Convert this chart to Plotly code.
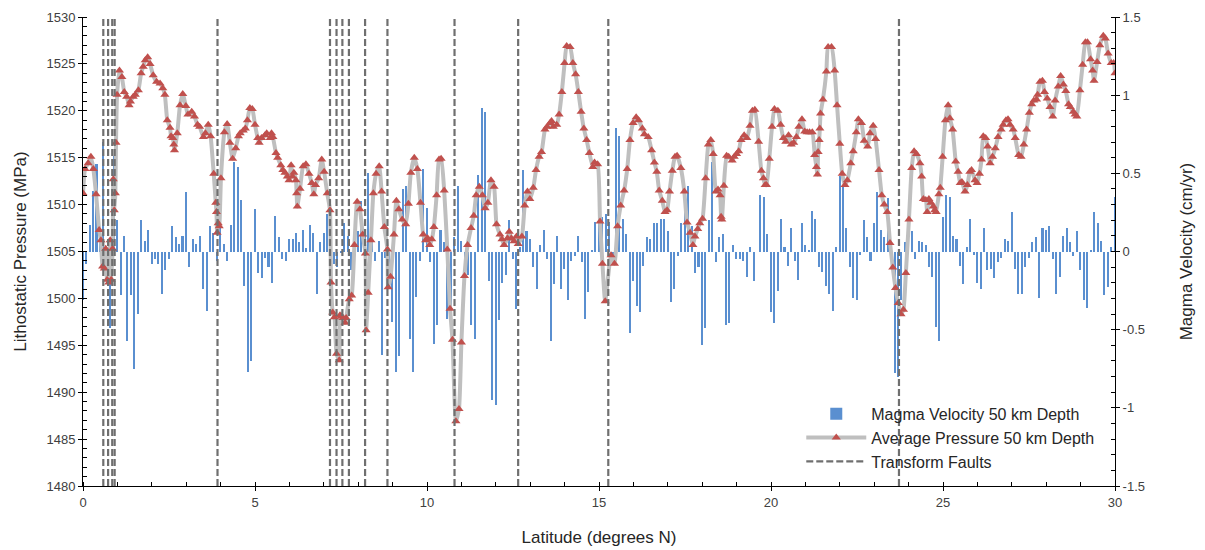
import plotly.graph_objects as go

# Average lithostatic pressure at 50 km depth (MPa) along the ridge axis
pressure_lat = [
    0.00, 0.06, 0.15, 0.23, 0.30, 0.38, 0.47, 0.52, 0.57, 0.62, 0.66, 0.70, 0.75, 0.79, 0.82, 0.86,
    0.88, 0.91, 0.94, 0.96, 0.99, 1.06, 1.13, 1.20, 1.27, 1.34, 1.38, 1.46, 1.52, 1.61, 1.69, 1.75,
    1.81, 1.88, 1.95, 2.04, 2.14, 2.24, 2.32, 2.38, 2.45, 2.53, 2.56, 2.61, 2.64, 2.66, 2.74, 2.82,
    2.90, 2.99, 3.05, 3.16, 3.24, 3.33, 3.39, 3.50, 3.56, 3.64, 3.71, 3.80, 3.86, 3.88, 3.90, 3.93,
    3.96, 4.01, 4.11, 4.19, 4.27, 4.35, 4.44, 4.52, 4.57, 4.66, 4.72, 4.78, 4.85, 4.92, 5.00, 5.08,
    5.12, 5.19, 5.29, 5.34, 5.44, 5.48, 5.52, 5.61, 5.66, 5.75, 5.81, 5.87, 5.94, 5.99, 6.05, 6.09,
    6.13, 6.19, 6.21, 6.23, 6.31, 6.40, 6.48, 6.57, 6.65, 6.71, 6.76, 6.85, 6.94, 7.01, 7.10, 7.18,
    7.21, 7.26, 7.31, 7.37, 7.45, 7.47, 7.52, 7.56, 7.62, 7.65, 7.74, 7.81, 7.89, 7.97, 8.05, 8.13,
    8.21, 8.23, 8.29, 8.37, 8.44, 8.52, 8.61, 8.68, 8.76, 8.85, 8.87, 8.94, 9.04, 9.11, 9.18, 9.28,
    9.38, 9.46, 9.53, 9.63, 9.72, 9.81, 9.89, 9.96, 10.02, 10.08, 10.14, 10.20, 10.28, 10.35, 10.41, 10.50,
    10.59, 10.67, 10.74, 10.84, 10.93, 11.00, 11.09, 11.18, 11.28, 11.36, 11.43, 11.52, 11.61, 11.69, 11.77, 11.86,
    11.95, 12.02, 12.12, 12.18, 12.24, 12.34, 12.39, 12.45, 12.53, 12.60, 12.65, 12.76, 12.84, 12.92, 12.99, 13.09,
    13.17, 13.26, 13.33, 13.43, 13.49, 13.58, 13.62, 13.67, 13.77, 13.84, 13.92, 14.00, 14.06, 14.16, 14.24, 14.32,
    14.40, 14.48, 14.56, 14.64, 14.72, 14.82, 14.87, 14.96, 15.03, 15.10, 15.18, 15.35, 15.45, 15.54, 15.63, 15.73,
    15.82, 15.90, 15.99, 16.08, 16.15, 16.26, 16.32, 16.43, 16.53, 16.61, 16.68, 16.75, 16.84, 16.92, 16.98, 17.05,
    17.13, 17.21, 17.27, 17.38, 17.48, 17.56, 17.65, 17.73, 17.79, 17.87, 17.93, 18.01, 18.10, 18.18, 18.25, 18.32,
    18.40, 18.46, 18.52, 18.55, 18.57, 18.63, 18.71, 18.77, 18.87, 18.93, 19.00, 19.06, 19.13, 19.22, 19.30, 19.39,
    19.46, 19.53, 19.64, 19.72, 19.78, 19.83, 19.87, 19.95, 20.03, 20.10, 20.20, 20.28, 20.36, 20.43, 20.51, 20.59,
    20.66, 20.74, 20.81, 20.90, 20.98, 21.05, 21.12, 21.20, 21.27, 21.32, 21.35, 21.37, 21.40, 21.42, 21.44, 21.51,
    21.61, 21.66, 21.76, 21.85, 21.92, 22.00, 22.07, 22.15, 22.22, 22.32, 22.39, 22.48, 22.54, 22.63, 22.71, 22.81,
    22.88, 22.97, 23.04, 23.14, 23.22, 23.29, 23.38, 23.46, 23.54, 23.62, 23.70, 23.78, 23.85, 23.92, 24.01, 24.09,
    24.16, 24.23, 24.33, 24.38, 24.43, 24.50, 24.54, 24.59, 24.65, 24.72, 24.76, 24.80, 24.88, 24.92, 24.99, 25.07,
    25.15, 25.20, 25.28, 25.37, 25.44, 25.50, 25.55, 25.64, 25.71, 25.78, 25.83, 25.93, 25.99, 26.06, 26.12, 26.17,
    26.24, 26.30, 26.37, 26.44, 26.52, 26.60, 26.69, 26.75, 26.83, 26.89, 26.95, 27.04, 27.10, 27.20, 27.27, 27.35,
    27.43, 27.51, 27.58, 27.64, 27.72, 27.75, 27.82, 27.89, 27.95, 28.03, 28.11, 28.19, 28.26, 28.35, 28.42, 28.50,
    28.57, 28.65, 28.70, 28.79, 28.84, 28.89, 28.98, 29.06, 29.14, 29.20, 29.29, 29.35, 29.39, 29.48, 29.56, 29.66,
    29.72, 29.80, 29.89, 29.96, 30.00,
]
pressure_mpa = [
    1511.2, 1513.8, 1514.4, 1515.1, 1513.8, 1511.1, 1507.3, 1506.2, 1503.4, 1503.2, 1505.3, 1502.0, 1501.7, 1506.2, 1502.0, 1505.3,
    1512.7, 1509.4, 1511.2, 1516.6, 1521.7, 1524.3, 1523.6, 1522.0, 1521.5, 1520.6, 1521.0, 1521.5, 1521.7, 1522.2, 1524.0, 1524.7,
    1525.4, 1525.7, 1525.0, 1523.8, 1523.1, 1522.9, 1522.4, 1521.7, 1519.0, 1518.2, 1517.3, 1517.1, 1516.4, 1515.8, 1517.6, 1520.6,
    1521.8, 1520.5, 1519.6, 1519.9, 1519.4, 1518.5, 1518.3, 1517.2, 1517.6, 1518.5, 1517.3, 1513.3, 1510.2, 1509.2, 1507.0, 1508.0,
    1507.7, 1512.8, 1517.7, 1518.6, 1516.6, 1514.9, 1516.0, 1517.3, 1517.6, 1517.9, 1518.1, 1519.0, 1520.3, 1520.2, 1518.5, 1517.1,
    1516.6, 1517.1, 1517.4, 1517.6, 1517.1, 1517.6, 1517.2, 1515.5, 1515.0, 1514.2, 1513.7, 1513.4, 1513.0, 1512.6, 1514.2, 1513.0,
    1513.4, 1512.6, 1511.2, 1509.8, 1511.7, 1514.1, 1514.3, 1513.3, 1512.3, 1511.1, 1512.1, 1512.8, 1514.8, 1513.5, 1511.2, 1509.4,
    1501.7, 1498.5, 1498.0, 1494.1, 1493.4, 1498.2, 1498.1, 1497.9, 1497.4, 1497.9, 1499.9, 1500.3, 1505.7, 1510.3, 1509.5, 1506.8,
    1504.8, 1496.6, 1500.6, 1506.2, 1511.2, 1513.3, 1514.1, 1511.4, 1507.6, 1505.2, 1501.2, 1502.3, 1506.8, 1510.4, 1509.5, 1508.4,
    1507.9, 1510.1, 1513.4, 1515.0, 1513.8, 1510.2, 1506.8, 1506.2, 1506.4, 1505.7, 1506.3, 1507.6, 1511.0, 1514.8, 1514.9, 1511.5,
    1505.2, 1498.9, 1495.6, 1486.9, 1488.2, 1495.3, 1502.4, 1505.7, 1507.5, 1508.8, 1511.0, 1511.9, 1511.0, 1509.6, 1510.2, 1512.6,
    1511.9, 1507.9, 1506.8, 1506.3, 1505.7, 1506.4, 1507.1, 1506.4, 1506.1, 1506.6, 1505.8, 1506.6, 1509.9, 1511.4, 1510.6, 1511.8,
    1513.7, 1515.1, 1515.6, 1518.0, 1518.3, 1518.7, 1518.9, 1518.3, 1518.5, 1519.6, 1522.0, 1525.1, 1526.9, 1526.8, 1525.1, 1523.9,
    1522.0, 1519.9, 1518.1, 1516.9, 1515.5, 1514.0, 1514.5, 1514.3, 1508.2, 1503.7, 1499.7, 1504.6, 1503.7, 1507.7, 1509.9, 1511.5,
    1513.8, 1516.9, 1518.7, 1519.3, 1519.0, 1518.1, 1517.5, 1517.2, 1515.8, 1514.5, 1513.5, 1511.5, 1510.4, 1509.2, 1509.4, 1511.4,
    1513.6, 1515.1, 1515.2, 1513.9, 1511.4, 1508.1, 1507.0, 1505.7, 1506.6, 1507.4, 1508.0, 1508.5, 1512.8, 1516.4, 1516.9, 1515.4,
    1511.4, 1511.6, 1511.0, 1508.7, 1508.4, 1512.0, 1515.2, 1515.1, 1514.7, 1515.1, 1515.4, 1515.7, 1516.9, 1517.4, 1517.1, 1518.4,
    1520.0, 1520.1, 1516.7, 1513.6, 1512.8, 1512.1, 1512.1, 1514.9, 1518.3, 1520.2, 1520.0, 1518.5, 1517.1, 1516.7, 1517.4, 1516.4,
    1516.6, 1517.2, 1518.3, 1519.1, 1517.8, 1517.7, 1517.7, 1517.7, 1515.3, 1514.0, 1513.2, 1515.6, 1516.9, 1518.1, 1519.7, 1521.2,
    1524.2, 1526.8, 1526.8, 1524.3, 1520.6, 1516.5, 1513.3, 1512.1, 1512.6, 1514.4, 1515.7, 1517.7, 1519.1, 1518.7, 1516.8, 1516.2,
    1517.6, 1518.4, 1517.0, 1513.7, 1511.0, 1510.0, 1509.2, 1505.9, 1503.3, 1501.1, 1499.5, 1498.3, 1498.8, 1502.7, 1508.4, 1513.9,
    1515.7, 1515.4, 1514.4, 1513.0, 1510.6, 1510.5, 1509.2, 1510.6, 1510.2, 1509.8, 1509.4, 1509.2, 1511.1, 1511.8, 1515.1, 1519.0,
    1520.6, 1519.2, 1518.0, 1514.6, 1513.5, 1512.3, 1512.4, 1511.4, 1512.1, 1513.5, 1513.7, 1512.6, 1512.3, 1513.3, 1514.8, 1517.3,
    1517.1, 1516.2, 1514.4, 1515.1, 1516.0, 1517.2, 1518.0, 1518.5, 1519.0, 1519.1, 1518.5, 1518.0, 1517.1, 1515.3, 1515.1, 1516.4,
    1518.0, 1519.8, 1520.7, 1521.1, 1521.2, 1521.7, 1523.1, 1523.2, 1522.0, 1521.3, 1520.4, 1519.4, 1521.1, 1522.6, 1523.7, 1522.8,
    1522.1, 1520.7, 1520.4, 1519.9, 1519.6, 1519.4, 1522.2, 1524.9, 1527.3, 1527.3, 1525.5, 1524.3, 1523.2, 1525.2, 1527.0, 1528.0,
    1527.7, 1526.1, 1525.1, 1525.1, 1524.0,
]

# Magma velocity at 50 km depth (cm/yr), sampled every 0.1 degree from 0 to 30 N
velocity_lat = [round(i * 0.1, 1) for i in range(301)]
velocity_cm_yr = [
    -0.31, -0.08, 0.17, 0.39, 0.56, 0.15, 0.70, -0.20, -0.49, 0.61,
    0.20, -0.28, 0.10, -0.57, -0.28, -0.75, -0.40, 0.20, 0.07, 0.14,
    -0.08, -0.05, -0.08, -0.27, -0.12, -0.05, 0.16, 0.09, 0.05, 0.10,
    0.38, -0.10, 0.08, 0.05, 0.10, -0.24, -0.38, 0.16, 0.12, -0.06,
    0.20, 0.05, -0.06, 0.17, 0.57, 0.54, 0.33, -0.22, -0.77, -0.70,
    0.27, -0.14, -0.17, -0.04, -0.10, -0.20, 0.23, 0.09, -0.05, -0.06,
    0.08, 0.08, 0.12, 0.06, 0.14, 0.02, 0.17, 0.12, -0.27, 0.06,
    0.12, 0.24, 0.19, -0.08, -0.10, -0.01, 0.18, 0.10, -0.12, 0.05,
    0.13, 0.32, 0.12, 0.50, 0.07, -0.06, 0.07, -0.66, -0.04, -0.10,
    -0.45, -0.77, -0.67, 0.40, 0.42, -0.56, -0.77, -0.29, -0.06, 0.53,
    0.28, -0.07, -0.59, -0.47, 0.14, 0.06, -0.43, -0.36, 0.09, 0.42,
    0.07, -0.10, -0.15, -0.47, -0.56, 0.49, 0.92, 0.89, -0.19, -0.95,
    -0.98, -0.44, -0.20, -0.15, 0.20, -0.05, -0.37, 0.03, 0.52, 0.13,
    0.08, -0.10, -0.24, 0.04, 0.14, -0.05, -0.57, -0.21, 0.10, -0.24,
    -0.11, -0.31, -0.06, -0.03, 0.10, -0.07, -0.43, -0.26, 0.01, 0.19,
    0.30, 0.22, 0.24, 0.19, -0.05, 0.79, 0.74, 0.21, 0.11, -0.52,
    -0.19, -0.35, -0.39, -0.09, 0.09, 0.08, 0.18, 0.18, 0.21, 0.21,
    0.13, -0.32, -0.24, -0.03, 0.18, 0.33, 0.42, 0.16, -0.14, -0.10,
    -0.60, -0.49, 0.20, 0.57, -0.07, 0.09, 0.11, -0.47, -0.46, 0.04,
    -0.05, -0.05, -0.06, -0.16, 0.03, -0.19, 0.00, 0.36, 0.35, 0.11,
    -0.39, -0.46, -0.25, 0.21, 0.03, -0.09, 0.15, -0.06, -0.18, 0.18,
    0.04, 0.01, 0.26, 0.21, -0.10, -0.13, -0.22, -0.27, -0.38, 0.03,
    0.48, 0.41, 0.15, -0.10, -0.30, -0.31, -0.02, 0.20, 0.09, -0.06,
    0.18, 0.38, 0.14, 0.09, 0.34, 0.04, -0.78, -0.80, -0.31, 0.06,
    0.16, 0.13, -0.05, 0.07, 0.06, 0.04, -0.10, -0.16, -0.48, -0.57,
    0.22, 0.36, 0.35, 0.10, 0.08, -0.09, -0.21, 0.03, 0.21, -0.02,
    -0.20, -0.24, 0.15, -0.12, -0.11, -0.17, -0.07, -0.04, 0.08, 0.07,
    0.25, -0.11, -0.27, -0.27, -0.10, -0.04, 0.06, 0.09, -0.30, 0.15,
    0.14, 0.16, -0.05, -0.27, -0.16, 0.10, 0.15, 0.06, -0.03, 0.13,
    -0.12, -0.31, -0.36, 0.01, 0.25, 0.18, 0.07, -0.28, -0.23, 0.03,
    0.35,
]

# Transform fault latitudes (degrees N)
fault_lat = [0.59, 0.73, 0.85, 0.92, 3.91, 7.18, 7.37, 7.54, 7.73, 8.20, 8.85, 10.80, 12.65, 15.27, 23.72]

pressure_range = [1480, 1530]
velocity_ticks = [-1.5, -1, -0.5, 0, 0.5, 1, 1.5]
velocity_ticktext = ["-1.5", "-1", "-0.5", "0", "0.5", "1", "1.5"]

font_family = "Arial, Liberation Sans, sans-serif"

fault_x, fault_y = [], []
for f in fault_lat:
    fault_x += [f, f, None]
    fault_y += [pressure_range[0], pressure_range[1], None]

fig = go.Figure()

fig.add_trace(go.Bar(
    x=velocity_lat, y=velocity_cm_yr, yaxis="y",
    name="Magma Velocity 50 km Depth",
    marker=dict(color="#5a8fd0", line=dict(width=0)),
    width=0.045,
))

fig.add_trace(go.Scatter(
    x=pressure_lat, y=pressure_mpa, yaxis="y2",
    name="Average Pressure 50 km Depth",
    mode="lines+markers",
    line=dict(color="#bfbfbf", width=4, shape="spline", smoothing=0.5),
    marker=dict(symbol="triangle-up", size=8, color="#c0504d"),
))

fig.add_trace(go.Scatter(
    x=fault_x, y=fault_y, yaxis="y2",
    name="Transform Faults",
    mode="lines",
    line=dict(color="#6f6f6f", width=2.2, dash="7px,3px"),
))

axis_common = dict(
    showline=True, linecolor="black", linewidth=1,
    showgrid=False, zeroline=False, automargin=False,
    ticks="outside", ticklen=4, tickcolor="black",
    tickfont=dict(family=font_family, size=13, color="#404040"),
)

fig.update_layout(
    width=1205, height=550,
    margin=dict(l=83, r=90, t=17, b=64),
    paper_bgcolor="white", plot_bgcolor="white",
    font=dict(family=font_family, color="#262626"),
    bargap=0,
    xaxis=dict(
        range=[0, 30], dtick=5,
        minor=dict(dtick=1, ticks="inside", ticklen=4, tickcolor="black"),
        title=dict(text="Latitude (degrees N)", font=dict(size=17, color="#262626"), standoff=22),
        **axis_common,
    ),
    yaxis=dict(
        range=[-1.5, 1.5], side="right",
        tickvals=velocity_ticks, ticktext=velocity_ticktext,
        minor=dict(dtick=0.1, ticks="inside", ticklen=4, tickcolor="black"),
        title=dict(text="Magma Velocity (cm/yr)", font=dict(size=17, color="#262626"), standoff=36),
        **axis_common,
    ),
    yaxis2=dict(
        range=pressure_range, side="left", overlaying="y", dtick=5,
        minor=dict(dtick=1, ticks="inside", ticklen=4, tickcolor="black"),
        title=dict(text="Lithostatic Pressure (MPa)", font=dict(size=17, color="#262626"), standoff=15),
        **axis_common,
    ),
    legend=dict(
        x=0.696, y=0.19, xanchor="left", yanchor="top",
        bgcolor="rgba(0,0,0,0)",
        font=dict(family=font_family, size=16, color="#262626"),
        tracegroupgap=0, itemwidth=60,
    ),
    showlegend=True,
)

fig.write_html("out.html")
